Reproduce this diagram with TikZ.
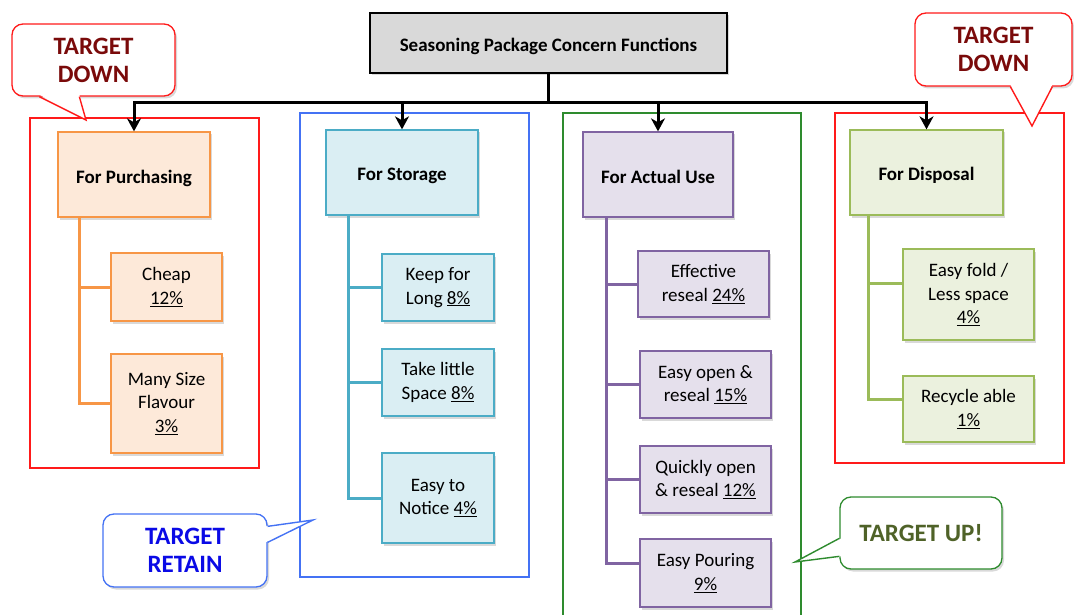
\documentclass[tikz,border=0pt]{standalone}
\usepackage{fontspec}
\setmainfont{Carlito}[BoldFont={Carlito Bold}]
\usetikzlibrary{positioning, arrows.meta, calc, shadows}

\definecolor{orfill}{HTML}{FDE9D9}
\definecolor{orline}{HTML}{F79646}
\definecolor{aqfill}{HTML}{DAEEF3}
\definecolor{aqline}{HTML}{4BACC6}
\definecolor{pufill}{HTML}{E5E0EC}
\definecolor{puline}{HTML}{8064A2}
\definecolor{grfill}{HTML}{EBF1DE}
\definecolor{grline}{HTML}{9BBB59}
\definecolor{topfill}{HTML}{D9D9D9}
\definecolor{fred}{HTML}{FF1A1A}
\definecolor{fblue}{HTML}{4472F4}
\definecolor{fgreen}{HTML}{2E8B2E}
\definecolor{tred}{HTML}{7A0A0A}
\definecolor{tblue}{HTML}{0A0AE6}
\definecolor{tgreen}{HTML}{4F6228}

\begin{document}
\begin{tikzpicture}[x=1pt, y=-1pt,
		topbox/.style={draw=black, fill=topfill, line width=1.3pt, minimum width=357pt, minimum height=60pt, inner sep=0pt, text height=22pt, text depth=5pt, font=\bfseries\fontsize{19}{23}\selectfont, drop shadow={shadow xshift=2pt, shadow yshift=-2pt, opacity=0.3}},
		headbox/.style={line width=1.3pt, minimum width=152pt, minimum height=85pt, inner sep=0pt, text height=22pt, text depth=5pt, font=\bfseries\fontsize{19}{23}\selectfont, drop shadow={shadow xshift=2pt, shadow yshift=-2.5pt, opacity=0.3}},
		subbox/.style={line width=1.3pt, minimum height=67pt, inner sep=0pt, align=center, font=\fontsize{19}{23.5}\selectfont, drop shadow={shadow xshift=2pt, shadow yshift=-2.5pt, opacity=0.3}},
		pur/.style={draw=orline, fill=orfill},
		sto/.style={draw=aqline, fill=aqfill},
		act/.style={draw=puline, fill=pufill},
		dis/.style={draw=grline, fill=grfill},
		branch/.style={line width=3pt},
		trunk/.style={line width=3pt, black},
		arrow/.style={trunk, -{Stealth[length=13pt, width=14pt, inset=4pt]}},
		frame/.style={line width=1.4pt},
		callout/.style={fill=white, line width=1.3pt, rounded corners=11pt, inner sep=0pt, align=center, font=\bfseries\fontsize{25}{28}\selectfont, drop shadow={shadow xshift=2pt, shadow yshift=-2.5pt, opacity=0.3}}
		]
		\useasboundingbox (0,0) rectangle (1074,615);
		
		% Group frames
		\draw[frame, fred] (30,118) rectangle (259,468);
		\draw[frame, fblue] (300,113) rectangle (529,577);
		\draw[frame, fgreen] (563,625) -- (563,113) -- (801,113) -- (801,625);
		\draw[frame, fred] (835,113) rectangle (1064,463);
		
		% Root and the four function heads
		\node[topbox] (root) at (548.5,43) {Seasoning Package Concern Functions};
		\node[headbox, pur] (purch) at (134,174.5) {For Purchasing};
		\node[headbox, sto] (store) at (402,172.5) {For Storage};
		\node[headbox, act, minimum width=150pt] (use) at (658,174.5) {For Actual Use};
		\node[headbox, dis, minimum width=153pt] (disp) at (926.5,172.5) {For Disposal};
		
		\coordinate (bus) at ($(root.south)+(0,29)$);
		\draw[trunk] (root.south) -- (bus);
		\draw[arrow] (bus) -| (purch.north);
		\draw[arrow] (bus) -| (store.north);
		\draw[arrow] (bus) -| (use.north);
		\draw[arrow] (bus) -| (disp.north);
		
		% For Purchasing
		\node[subbox, pur, minimum width=111pt, minimum height=68pt] (cheap) at (166.5,287) {Cheap\\\underline{12\%}};
		\node[subbox, pur, minimum width=111pt, minimum height=99pt] (many) at (166.5,403.5) {Many Size\\Flavour\\\underline{3\%}};
		\draw[branch, orline] ([xshift=22pt]purch.south west) |- (cheap.west);
		\draw[branch, orline] ([xshift=22pt]purch.south west) |- (many.west);
		
		% For Storage
		\node[subbox, sto, minimum width=112pt] (keep) at (438,287.5) {Keep for\\Long \underline{8\%}};
		\node[subbox, sto, minimum width=112pt] (little) at (438,382.5) {Take little\\Space \underline{8\%}};
		\node[subbox, sto, minimum width=112pt, minimum height=90pt] (notice) at (438,498) {Easy to\\Notice \underline{4\%}};
		\draw[branch, aqline] ([xshift=23pt]store.south west) |- (keep.west);
		\draw[branch, aqline] ([xshift=23pt]store.south west) |- (little.west);
		\draw[branch, aqline] ([xshift=23pt]store.south west) |- (notice.west);
		
		% For Actual Use
		\node[subbox, act, minimum width=131pt, minimum height=66pt] (reseal) at (703.5,284) {Effective\\reseal \underline{24\%}};
		\node[subbox, act, minimum width=131pt] (easyopen) at (705.5,384.5) {Easy open \&\\reseal \underline{15\%}};
		\node[subbox, act, minimum width=131pt] (quick) at (705.5,479.5) {Quickly open\\\& reseal \underline{12\%}};
		\node[subbox, act, minimum width=131pt, minimum height=68pt] (pour) at (705.5,573) {Easy Pouring\\\underline{9\%}};
		\draw[branch, puline] ([xshift=24pt]use.south west) |- (reseal.west);
		\draw[branch, puline] ([xshift=24pt]use.south west) |- (easyopen.west);
		\draw[branch, puline] ([xshift=24pt]use.south west) |- (quick.west);
		\draw[branch, puline] ([xshift=24pt]use.south west) |- ([yshift=10pt]pour.west);
		
		% For Disposal
		\node[subbox, dis, minimum width=131pt, minimum height=91pt] (fold) at (968.5,294.5) {Easy fold /\\Less space\\\underline{4\%}};
		\node[subbox, dis, minimum width=131pt, minimum height=66pt] (recycle) at (968.5,409) {Recycle able\\\underline{1\%}};
		\draw[branch, grline] ([xshift=19pt]disp.south west) |- ([yshift=11.5pt]fold.west);
		\draw[branch, grline] ([xshift=19pt]disp.south west) |- ([yshift=10pt]recycle.west);
		
		% Target callouts
		\node[callout, draw=fred, text=tred, minimum width=163pt, minimum height=72pt] (downl) at (93.5,60) {TARGET\\DOWN};
		\coordinate (downltip) at (86,120);
		\fill[white] ([xshift=28pt, yshift=2pt]downl.south west) -- (downltip) -- ([xshift=68pt, yshift=2pt]downl.south west) -- cycle;
		\draw[frame, fred, line join=miter] ([xshift=28pt]downl.south west) -- (downltip) -- ([xshift=68pt]downl.south west);
		
		\node[callout, draw=fred, text=tred, minimum width=157pt, minimum height=73pt] (downr) at (993.5,49.5) {TARGET\\DOWN};
		\coordinate (downrtip) at (1032,126);
		\fill[white] ([xshift=96pt, yshift=2pt]downr.south west) -- (downrtip) -- ([xshift=138pt, yshift=2pt]downr.south west) -- cycle;
		\draw[frame, fred, line join=miter] ([xshift=96pt]downr.south west) -- (downrtip) -- ([xshift=138pt]downr.south west);
		
		\node[callout, draw=fblue, text=tblue, minimum width=164pt, minimum height=73pt] (retain) at (185,550.5) {TARGET\\RETAIN};
		\coordinate (retaintip) at (313,520);
		\fill[white] ([xshift=-2pt, yshift=-13pt]retain.north east) -- (retaintip) -- ([xshift=-2pt, yshift=-29pt]retain.north east) -- cycle;
		\draw[frame, fblue, line join=miter] ([yshift=-13pt]retain.north east) -- (retaintip) -- ([yshift=-29pt]retain.north east);
		
		\node[callout, draw=fgreen, text=tgreen, minimum width=162pt, minimum height=72pt] (up) at (921,533) {TARGET UP!};
		\coordinate (uptip) at (795,562);
		\fill[white] ([xshift=2pt, yshift=-42pt]up.north west) -- (uptip) -- ([xshift=2pt, yshift=-60pt]up.north west) -- cycle;
		\draw[frame, fgreen, line join=miter] ([yshift=-42pt]up.north west) -- (uptip) -- ([yshift=-60pt]up.north west);
		
	\end{tikzpicture}
\end{document}
